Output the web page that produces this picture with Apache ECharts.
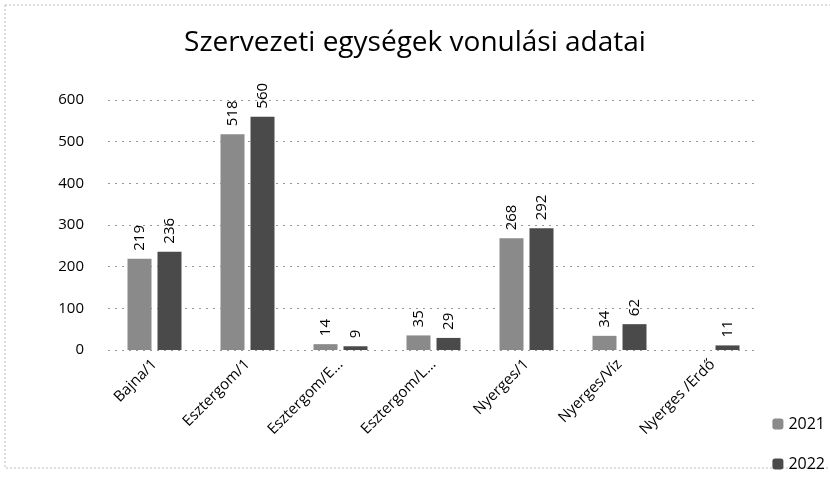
<!DOCTYPE html>
<html><head><meta charset="utf-8">
<script src="https://cdn.jsdelivr.net/npm/echarts@6/dist/echarts.min.js"></script>
<style>html,body{margin:0;padding:0;background:#fff}#c{width:830px;height:480px}</style>
</head><body><div id="c"></div>
<script>
const categories = ['Bajna/1','Esztergom/1','Esztergom/E...','Esztergom/L...','Nyerges/1','Nyerges/Víz','Nyerges /Erdő'];
const values2021 = [219, 518, 14, 35, 268, 34, 0];
const values2022 = [236, 560, 9, 29, 292, 62, 11];
const yTicks = [0, 100, 200, 300, 400, 500, 600];

const chart = echarts.init(document.getElementById('c'));
const lbl = {show:true, position:'top', rotate:90, align:'left', verticalAlign:'middle', distance:8,
  fontFamily:'Open Sans', fontSize:15, color:'#000',
  formatter: p => p.value === 0 ? '' : p.value};
chart.setOption({
  backgroundColor:'#fff',
  animation:false,
  title:{text:'Szervezeti egységek vonulási adatai', left:'center', top:24,
    textStyle:{fontFamily:'Open Sans', fontSize:28, fontWeight:'normal', color:'#000'}},
  legend:{orient:'vertical', right:0, top:411, itemWidth:11, itemHeight:11, itemGap:24,
    textStyle:{fontFamily:'Open Sans', fontSize:16, color:'#000'}, itemStyle:{borderWidth:0}},
  grid:{left:108, right:71, top:100, bottom:130},
  xAxis:{type:'category', data:categories,
    axisLine:{show:false}, axisTick:{show:false},
    axisLabel:{rotate:45, interval:0, fontFamily:'Open Sans', fontSize:15, color:'#000', margin:12}},
  yAxis:{type:'value', min:yTicks[0], max:yTicks[yTicks.length-1], interval:100,
    axisLine:{show:false}, axisTick:{show:false},
    axisLabel:{fontFamily:'Open Sans', fontSize:15, color:'#000', margin:24},
    splitLine:{lineStyle:{type:[2,5], color:'#999', width:1}}},
  series:[
    {name:'2021', type:'bar', data:values2021, barWidth:24, barGap:'25%',
      itemStyle:{color:'#8a8a8a', borderWidth:0}, label:lbl},
    {name:'2022', type:'bar', data:values2022, barWidth:24,
      itemStyle:{color:'#4a4a4a', borderWidth:0}, label:lbl}
  ],
  graphic:[{type:'rect', shape:{x:5,y:5,width:850,height:463},
    style:{fill:'none', stroke:'#bbb', lineWidth:1, lineDash:[2,2]}}]
});
</script></body></html>
